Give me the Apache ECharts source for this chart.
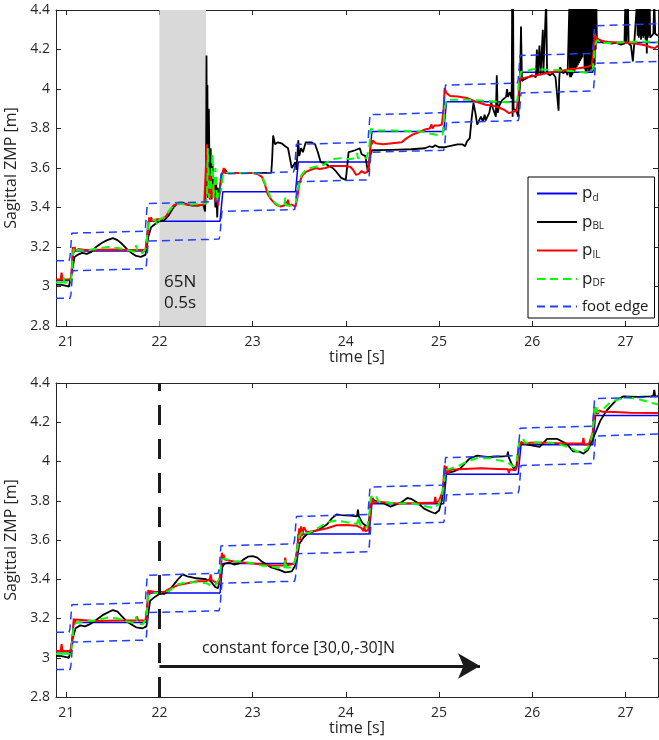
<!DOCTYPE html>
<html><head><meta charset="utf-8">
<script src="https://cdn.jsdelivr.net/npm/echarts@6/dist/echarts.min.js"></script>
<style>html,body{margin:0;padding:0;background:#fff}#c{width:659px;height:740px}</style>
</head><body><div id="c"></div><script>
// ---------- DATA ----------
const timeTicks = [21, 22, 23, 24, 25, 26, 27];
const zmpTicks = [2.8, 3, 3.2, 3.4, 3.6, 3.8, 4, 4.2, 4.4];

// desired ZMP p_d (same in both experiments)
const pD = [[20.89,3.03],[21.05,3.03],[21.08,3.18],[21.85,3.18],[21.88,3.33],[22.65,3.33],[22.68,3.48],[23.46,3.48],[23.49,3.63],[24.25,3.63],[24.28,3.785],[25.05,3.785],[25.08,3.935],[25.85,3.935],[25.88,4.085],[26.65,4.085],[26.68,4.235],[27.35,4.235]];
// foot edges
const footUpper = [[20.89,3.13],[21.03,3.13],[21.04,3.15],[21.06,3.27],[21.08,3.28],[21.84,3.28],[21.85,3.30],[21.87,3.42],[21.89,3.43],[22.63,3.43],[22.64,3.45],[22.66,3.57],[22.68,3.58],[23.44,3.58],[23.45,3.60],[23.47,3.72],[23.49,3.73],[24.23,3.73],[24.24,3.75],[24.26,3.87],[24.28,3.88],[25.04,3.88],[25.05,3.90],[25.07,4.02],[25.09,4.03],[25.84,4.03],[25.85,4.05],[25.87,4.17],[25.89,4.18],[26.64,4.18],[26.65,4.20],[26.67,4.32],[26.69,4.33],[27.35,4.33]];
const footLower = [[20.89,2.94],[21.04,2.94],[21.05,2.96],[21.07,3.08],[21.09,3.09],[21.85,3.09],[21.86,3.11],[21.88,3.23],[21.9,3.24],[22.64,3.24],[22.65,3.26],[22.67,3.38],[22.69,3.39],[23.45,3.39],[23.46,3.41],[23.48,3.53],[23.5,3.54],[24.24,3.54],[24.25,3.56],[24.27,3.68],[24.29,3.69],[25.05,3.69],[25.06,3.71],[25.08,3.83],[25.1,3.84],[25.85,3.84],[25.86,3.86],[25.88,3.98],[25.9,3.99],[26.65,3.99],[26.66,4.01],[26.68,4.13],[26.7,4.14],[27.35,4.14]];

// top panel (65N push, 0.5 s)
const topBL = [[20.89,3.01],[20.95,3.008],[21.0,3.003],[21.03,3.0],[21.05,3.01],[21.07,3.1],[21.09,3.15],[21.12,3.16],[21.17,3.17],[21.22,3.165],[21.27,3.175],[21.32,3.2],[21.38,3.22],[21.44,3.235],[21.5,3.245],[21.55,3.235],[21.6,3.215],[21.65,3.19],[21.7,3.17],[21.75,3.155],[21.8,3.15],[21.85,3.16],[21.88,3.25],[21.91,3.3],[21.95,3.315],[22.0,3.33],[22.05,3.335],[22.1,3.36],[22.15,3.4],[22.2,3.425],[22.25,3.425],[22.3,3.415],[22.35,3.41],[22.42,3.41],[22.47,3.415],[22.49,3.38],[22.5,3.55],[22.505,4.17],[22.51,3.6],[22.515,4.02],[22.52,3.45],[22.53,3.9],[22.54,3.48],[22.55,3.7],[22.56,3.44],[22.57,3.62],[22.58,3.5],[22.59,3.55],[22.6,3.4],[22.61,3.52],[22.62,3.35],[22.63,3.5],[22.64,3.45],[22.66,3.55],[22.68,3.58],[22.7,3.595],[22.73,3.575],[23.0,3.575],[23.2,3.575],[23.21,3.65],[23.22,3.765],[23.24,3.72],[23.27,3.73],[23.31,3.725],[23.35,3.71],[23.38,3.70],[23.4,3.65],[23.42,3.6],[23.44,3.6],[23.46,3.63],[23.47,3.59],[23.48,3.58],[23.49,3.74],[23.5,3.66],[23.52,3.7],[23.54,3.68],[23.57,3.73],[23.63,3.73],[23.67,3.72],[23.7,3.68],[23.73,3.63],[23.77,3.625],[23.82,3.61],[23.86,3.6],[23.9,3.58],[23.95,3.55],[24.0,3.54],[24.02,3.54],[24.03,3.68],[24.07,3.685],[24.1,3.69],[24.12,3.7],[24.15,3.7],[24.17,3.67],[24.19,3.66],[24.21,3.66],[24.23,3.6],[24.24,3.58],[24.26,3.66],[24.28,3.69],[24.35,3.69],[24.5,3.692],[24.7,3.695],[24.85,3.7],[24.9,3.71],[24.93,3.705],[24.96,3.715],[25.0,3.705],[25.05,3.705],[25.1,3.71],[25.15,3.715],[25.2,3.72],[25.25,3.72],[25.28,3.71],[25.3,3.735],[25.33,3.75],[25.35,3.85],[25.37,3.93],[25.39,3.88],[25.41,3.82],[25.43,3.84],[25.45,3.86],[25.47,3.835],[25.49,3.87],[25.5,3.84],[25.52,3.83],[25.54,3.88],[25.56,3.93],[25.58,3.9],[25.6,3.91],[25.61,3.86],[25.62,4.07],[25.63,3.88],[25.65,3.92],[25.68,3.945],[25.72,3.96],[25.73,4.0],[25.74,3.96],[25.76,3.985],[25.78,3.95],[25.785,4.45],[25.79,3.86],[25.795,4.45],[25.8,3.9],[25.83,3.89],[25.85,3.86],[25.86,3.95],[25.87,4.05],[25.88,4.316],[25.89,4.04],[25.92,4.05],[25.96,4.06],[26.0,4.07],[26.04,4.06],[26.05,4.2],[26.06,4.07],[26.078,4.22],[26.09,4.07],[26.11,4.08],[26.114,4.3],[26.12,4.08],[26.14,4.07],[26.15,4.45],[26.16,4.08],[26.19,4.07],[26.22,4.08],[26.25,4.06],[26.27,4.05],[26.283,3.89],[26.29,4.05],[26.3,4.11],[26.33,4.08],[26.36,4.09],[26.38,4.07],
[26.400,4.45],[26.406,4.06],[26.412,4.45],[26.418,4.06],[26.424,4.45],[26.430,4.07],[26.436,4.45],[26.442,4.08],[26.448,4.45],[26.454,4.09],[26.460,4.45],[26.466,4.10],[26.472,4.45],[26.478,4.11],[26.484,4.45],[26.490,4.12],[26.496,4.45],[26.502,4.13],[26.508,4.45],[26.514,4.14],[26.520,4.45],[26.526,4.15],[26.532,4.45],[26.538,4.16],[26.544,4.45],[26.550,4.18],[26.556,4.45],[26.562,4.10],[26.568,4.45],[26.574,4.09],[26.580,4.45],[26.586,4.09],[26.592,4.45],[26.598,4.10],[26.604,4.45],[26.610,4.09],[26.616,4.45],[26.622,4.10],[26.628,4.45],[26.634,4.09],[26.640,4.45],[26.646,4.10],[26.652,4.45],[26.658,4.09],[26.664,4.45],[26.670,4.12],[26.676,4.45],[26.682,4.20],[26.688,4.45],[26.694,4.24],
[26.72,4.25],[26.76,4.235],[26.8,4.24],[26.85,4.23],[26.9,4.235],[26.95,4.225],[26.99,4.23],[27.0,4.45],[27.01,4.23],[27.027,4.45],[27.035,4.23],[27.06,4.22],[27.08,4.14],[27.095,4.23],[27.11,4.24],
[27.126,4.45],[27.132,4.27],[27.138,4.45],[27.144,4.26],[27.150,4.45],[27.156,4.27],[27.162,4.45],[27.168,4.25],[27.174,4.45],[27.180,4.27],[27.186,4.45],[27.192,4.26],[27.198,4.45],[27.204,4.27],[27.210,4.45],[27.216,4.25],[27.222,4.45],[27.230,4.18],[27.236,4.45],[27.242,4.26],[27.248,4.45],[27.254,4.27],[27.260,4.45],[27.266,4.26],
[27.28,4.27],[27.3,4.28],[27.31,4.45],[27.32,4.28],[27.35,4.27]];
const topIL = [[20.89,3.035],[20.94,3.035],[20.95,3.07],[20.96,3.035],[21.05,3.035],[21.06,3.1],[21.07,3.2],[21.08,3.17],[21.09,3.2],[21.1,3.18],[21.13,3.19],[21.2,3.185],[21.5,3.187],[21.7,3.185],[21.85,3.185],[21.87,3.25],[21.89,3.35],[21.9,3.33],[21.91,3.35],[21.93,3.33],[21.97,3.34],[22.02,3.34],[22.07,3.355],[22.11,3.385],[22.15,3.41],[22.2,3.42],[22.3,3.415],[22.4,3.41],[22.48,3.415],[22.5,3.42],[22.51,3.72],[22.52,3.46],[22.53,3.6],[22.54,3.44],[22.55,3.56],[22.56,3.45],[22.58,3.52],[22.6,3.43],[22.62,3.47],[22.63,3.41],[22.65,3.5],[22.67,3.56],[22.69,3.6],[22.7,3.575],[22.75,3.575],[23.0,3.575],[23.05,3.57],[23.1,3.555],[23.13,3.52],[23.16,3.47],[23.2,3.44],[23.25,3.415],[23.3,3.405],[23.34,3.41],[23.36,3.43],[23.37,3.41],[23.38,3.44],[23.39,3.41],[23.42,3.415],[23.46,3.405],[23.48,3.45],[23.5,3.52],[23.53,3.56],[23.57,3.58],[23.62,3.59],[23.68,3.6],[23.72,3.595],[23.78,3.6],[23.84,3.61],[23.9,3.61],[24.0,3.61],[24.05,3.605],[24.08,3.59],[24.11,3.565],[24.14,3.57],[24.17,3.585],[24.2,3.575],[24.23,3.58],[24.25,3.62],[24.27,3.745],[24.28,3.72],[24.29,3.74],[24.32,3.725],[24.4,3.72],[24.5,3.725],[24.6,3.73],[24.65,3.75],[24.72,3.77],[24.78,3.78],[24.85,3.795],[24.9,3.8],[24.92,3.82],[24.93,3.8],[24.95,3.815],[25.0,3.815],[25.03,3.82],[25.05,3.9],[25.06,4.005],[25.08,3.98],[25.12,3.965],[25.2,3.962],[25.3,3.955],[25.4,3.935],[25.5,3.92],[25.6,3.914],[25.7,3.895],[25.75,3.878],[25.8,3.885],[25.83,3.89],[25.85,3.95],[25.87,4.06],[25.9,4.055],[26.0,4.065],[26.1,4.075],[26.2,4.085],[26.3,4.09],[26.4,4.1],[26.5,4.105],[26.6,4.113],[26.64,4.12],[26.66,4.2],[26.67,4.282],[26.69,4.26],[26.72,4.248],[26.8,4.238],[26.9,4.235],[27.0,4.235],[27.1,4.23],[27.2,4.223],[27.28,4.21],[27.32,4.207],[27.35,4.22]];
const topDF = [[20.89,3.02],[20.96,3.02],[20.97,3.05],[20.98,3.02],[21.05,3.02],[21.07,3.15],[21.08,3.19],[21.1,3.17],[21.12,3.185],[21.2,3.18],[21.3,3.19],[21.45,3.2],[21.55,3.195],[21.65,3.185],[21.74,3.175],[21.75,3.21],[21.76,3.175],[21.82,3.17],[21.86,3.2],[21.88,3.33],[21.9,3.34],[21.95,3.34],[21.98,3.31],[22.0,3.34],[22.05,3.35],[22.1,3.38],[22.15,3.41],[22.2,3.42],[22.3,3.415],[22.45,3.42],[22.5,3.42],[22.51,3.45],[22.52,3.7],[22.53,3.45],[22.55,3.5],[22.57,3.67],[22.58,3.45],[22.6,3.6],[22.62,3.43],[22.64,3.5],[22.66,3.48],[22.68,3.56],[22.7,3.58],[22.75,3.575],[23.05,3.575],[23.1,3.56],[23.15,3.5],[23.2,3.44],[23.25,3.42],[23.3,3.405],[23.34,3.41],[23.35,3.45],[23.36,3.41],[23.42,3.41],[23.46,3.42],[23.49,3.5],[23.52,3.56],[23.56,3.585],[23.62,3.6],[23.7,3.61],[23.76,3.615],[23.82,3.635],[23.86,3.645],[23.95,3.65],[24.05,3.645],[24.1,3.65],[24.12,3.675],[24.13,3.65],[24.22,3.65],[24.25,3.7],[24.27,3.8],[24.3,3.79],[24.5,3.79],[24.8,3.785],[24.9,3.775],[25.0,3.765],[25.04,3.77],[25.06,3.9],[25.08,3.945],[25.3,3.945],[25.5,3.94],[25.65,3.935],[25.8,3.932],[25.84,3.94],[25.86,4.05],[25.88,4.088],[25.95,4.092],[26.0,4.1],[26.3,4.095],[26.5,4.088],[26.6,4.08],[26.65,4.1],[26.67,4.2],[26.69,4.248],[26.75,4.235],[26.85,4.232],[27.0,4.238],[27.2,4.24],[27.35,4.237]];

// bottom panel (constant force)
const botBL = [[20.89,3.01],[20.95,3.008],[21.0,3.003],[21.03,3.0],[21.05,3.01],[21.07,3.1],[21.1,3.15],[21.15,3.165],[21.2,3.16],[21.25,3.17],[21.3,3.185],[21.4,3.22],[21.5,3.243],[21.55,3.235],[21.6,3.21],[21.65,3.185],[21.7,3.17],[21.75,3.155],[21.82,3.15],[21.86,3.16],[21.9,3.29],[21.95,3.31],[22.0,3.325],[22.05,3.325],[22.1,3.34],[22.15,3.37],[22.2,3.4],[22.25,3.425],[22.3,3.415],[22.35,3.41],[22.4,3.405],[22.5,3.4],[22.55,3.39],[22.6,3.36],[22.63,3.355],[22.67,3.46],[22.7,3.48],[22.75,3.485],[22.8,3.475],[22.85,3.48],[22.9,3.5],[22.95,3.515],[23.0,3.518],[23.05,3.51],[23.1,3.49],[23.2,3.46],[23.3,3.445],[23.35,3.435],[23.42,3.44],[23.47,3.48],[23.5,3.58],[23.55,3.615],[23.6,3.635],[23.7,3.65],[23.8,3.68],[23.85,3.71],[23.9,3.73],[23.95,3.727],[24.05,3.724],[24.12,3.72],[24.13,3.755],[24.14,3.72],[24.18,3.685],[24.23,3.668],[24.25,3.7],[24.27,3.81],[24.34,3.795],[24.41,3.786],[24.48,3.77],[24.59,3.79],[24.66,3.814],[24.7,3.81],[24.77,3.79],[24.84,3.76],[24.91,3.744],[24.96,3.735],[25.0,3.75],[25.03,3.8],[25.07,3.94],[25.16,3.95],[25.23,3.965],[25.33,4.016],[25.41,4.03],[25.52,4.022],[25.64,4.025],[25.73,4.027],[25.74,4.05],[25.75,4.02],[25.8,3.965],[25.83,3.975],[25.86,4.09],[25.91,4.09],[26.02,4.08],[26.08,4.075],[26.16,4.115],[26.27,4.115],[26.37,4.09],[26.44,4.052],[26.51,4.05],[26.55,4.04],[26.6,4.06],[26.66,4.125],[26.73,4.207],[26.8,4.261],[26.9,4.312],[26.98,4.332],[27.13,4.329],[27.27,4.332],[27.3,4.335],[27.31,4.365],[27.32,4.33],[27.35,4.335]];
const botIL = [[20.89,3.035],[20.94,3.035],[20.95,3.07],[20.96,3.035],[21.05,3.035],[21.07,3.12],[21.08,3.2],[21.09,3.17],[21.1,3.195],[21.12,3.185],[21.3,3.187],[21.6,3.19],[21.75,3.19],[21.76,3.21],[21.77,3.19],[21.85,3.19],[21.87,3.26],[21.88,3.345],[21.89,3.32],[21.9,3.34],[21.95,3.335],[22.05,3.335],[22.1,3.35],[22.2,3.37],[22.3,3.38],[22.4,3.39],[22.5,3.39],[22.54,3.4],[22.55,3.425],[22.56,3.395],[22.6,3.385],[22.64,3.38],[22.66,3.45],[22.67,3.535],[22.68,3.5],[22.69,3.525],[22.7,3.5],[22.8,3.49],[22.9,3.485],[23.0,3.48],[23.1,3.475],[23.2,3.47],[23.3,3.47],[23.34,3.47],[23.35,3.51],[23.36,3.47],[23.45,3.48],[23.48,3.55],[23.5,3.66],[23.51,3.6],[23.52,3.67],[23.53,3.62],[23.55,3.665],[23.58,3.64],[23.7,3.65],[23.8,3.66],[23.9,3.675],[24.0,3.676],[24.12,3.672],[24.17,3.66],[24.19,3.645],[24.2,3.67],[24.21,3.645],[24.24,3.65],[24.26,3.72],[24.27,3.82],[24.28,3.78],[24.29,3.815],[24.3,3.79],[24.34,3.795],[24.55,3.786],[24.77,3.788],[24.91,3.79],[24.95,3.79],[24.96,3.82],[24.97,3.79],[25.0,3.8],[25.04,3.85],[25.06,3.98],[25.07,3.93],[25.08,3.975],[25.1,3.94],[25.12,3.958],[25.27,3.962],[25.45,3.965],[25.63,3.962],[25.74,3.96],[25.75,3.94],[25.76,3.96],[25.82,3.955],[25.84,3.98],[25.86,4.1],[25.87,4.08],[25.88,4.1],[25.92,4.09],[25.98,4.095],[26.16,4.095],[26.34,4.092],[26.54,4.092],[26.55,4.12],[26.56,4.085],[26.61,4.09],[26.65,4.15],[26.67,4.278],[26.68,4.24],[26.69,4.27],[26.7,4.24],[26.72,4.26],[26.75,4.253],[26.88,4.252],[27.05,4.249],[27.35,4.247]];
const botDF = [[20.89,3.02],[20.96,3.02],[20.97,3.04],[20.98,3.02],[21.05,3.02],[21.07,3.1],[21.08,3.17],[21.12,3.18],[21.2,3.185],[21.3,3.19],[21.45,3.205],[21.55,3.2],[21.65,3.185],[21.74,3.176],[21.75,3.21],[21.76,3.176],[21.82,3.17],[21.86,3.2],[21.88,3.32],[21.95,3.33],[22.0,3.33],[22.1,3.34],[22.2,3.375],[22.3,3.385],[22.4,3.385],[22.5,3.38],[22.55,3.37],[22.6,3.37],[22.64,3.4],[22.67,3.5],[22.7,3.505],[22.8,3.49],[22.9,3.49],[23.0,3.48],[23.1,3.47],[23.2,3.465],[23.3,3.455],[23.34,3.455],[23.35,3.5],[23.36,3.46],[23.42,3.46],[23.46,3.5],[23.5,3.62],[23.55,3.65],[23.57,3.635],[23.6,3.635],[23.7,3.66],[23.8,3.69],[23.9,3.7],[23.98,3.693],[24.12,3.681],[24.14,3.72],[24.15,3.68],[24.2,3.66],[24.23,3.668],[24.25,3.72],[24.27,3.82],[24.32,3.83],[24.35,3.795],[24.55,3.786],[24.73,3.786],[24.88,3.769],[24.95,3.762],[25.0,3.785],[25.04,3.85],[25.07,3.956],[25.2,3.975],[25.3,3.999],[25.4,4.016],[25.56,4.016],[25.63,4.007],[25.73,3.998],[25.8,3.973],[25.83,3.99],[25.86,4.1],[25.9,4.12],[25.92,4.095],[26.02,4.098],[26.2,4.095],[26.31,4.085],[26.41,4.07],[26.48,4.05],[26.55,4.055],[26.59,4.065],[26.63,4.1],[26.67,4.24],[26.68,4.29],[26.7,4.25],[26.75,4.261],[26.84,4.303],[26.95,4.32],[27.0,4.328],[27.13,4.32],[27.27,4.3],[27.35,4.29]];

// annotations
const pushWindow = [22, 22.5];
const pushText = '65N\n0.5s';
const pushTextAt = [22.05, 2.969];
const forceStart = 22;
const arrowFrom = [22, 2.958];
const arrowTo = [25.44, 2.958];
const forceText = 'constant force [30,0,-30]N';
const forceTextAt = [22.456, 3.034];

// ---------- CHART ----------
const X_MIN = 20.89, X_MAX = 27.35, Y_MIN = 2.8, Y_MAX = 4.4;
const AX = '#262626';
const FONT = 'Open Sans';
const chart = echarts.init(document.getElementById('c'), null, {renderer: 'canvas'});

function xAxis(grid, pos, main) {
  return {
    type: 'value', gridIndex: grid, position: pos, min: X_MIN, max: X_MAX,
    axisLine: {onZero: false, lineStyle: {color: AX, width: 1}},
    axisTick: {show: true, inside: true, length: 5, customValues: timeTicks, lineStyle: {color: AX}},
    axisLabel: {show: main, customValues: timeTicks, margin: 9, color: AX, fontSize: 14, fontFamily: FONT},
    splitLine: {show: false},
    name: main ? 'time [s]' : '', nameLocation: 'middle', nameGap: 20,
    nameTextStyle: {color: AX, fontSize: 16, fontFamily: FONT}
  };
}
function yAxis(grid, pos, main) {
  return {
    type: 'value', gridIndex: grid, position: pos, min: Y_MIN, max: Y_MAX,
    axisLine: {onZero: false, lineStyle: {color: AX, width: 1}},
    axisTick: {show: true, inside: true, length: 5, customValues: zmpTicks, lineStyle: {color: AX}},
    axisLabel: {show: main, customValues: zmpTicks, margin: 6, color: AX, fontSize: 14, fontFamily: FONT},
    splitLine: {show: false},
    name: main ? 'Sagittal ZMP [m]' : '', nameLocation: 'middle', nameGap: 31, nameRotate: 90,
    nameTextStyle: {color: AX, fontSize: 16, fontFamily: FONT}
  };
}
function line(name, data, axIdx, color, width, dashed, extra) {
  return Object.assign({
    name, type: 'line', data, xAxisIndex: axIdx, yAxisIndex: axIdx,
    symbol: 'none', showSymbol: false, clip: true, animation: false,
    lineStyle: {color, width, type: dashed ? [8, 5] : 'solid'},
    itemStyle: {color}, emphasis: {disabled: true}
  }, extra || {});
}
const BLUE = '#0000ff', BLACK = '#000000', RED = '#ff0000', GREEN = '#00ff00', EDGE = '#1f3fff';

const series = [];
[[topBL, topIL, topDF, 0], [botBL, botIL, botDF, 2]].forEach(([bl, il, df, a], k) => {
  const extraPd = {};
  if (k === 0) {
    extraPd.markArea = {silent: true, itemStyle: {color: '#d9d9d9'}, data: [[{xAxis: pushWindow[0]}, {xAxis: pushWindow[1]}]]};
  } else {
    extraPd.markLine = {
      silent: true, symbol: 'none', animation: false, label: {show: false},
      lineStyle: {color: '#1a1a1a', width: 3, type: [20, 14]},
      data: [{xAxis: forceStart}]
    };
  }
  series.push(line('pd', pD, a, BLUE, 1.5, false, extraPd));
  series.push(line('pBL', bl, a, BLACK, 1.8, false));
  series.push(line('pIL', il, a, RED, 2, false));
  series.push(line('pDF', df, a, GREEN, 2, true));
  series.push(line('foot edge', footUpper, a, EDGE, 1.5, true));
  series.push(line('foot edge', footLower, a, EDGE, 1.5, true, k === 1 ? {
    markLine: {
      silent: true, animation: false, label: {show: false},
      symbol: ['none', 'arrow'], symbolSize: [19, 22],
      lineStyle: {color: '#1a1a1a', width: 3, type: 'solid'},
      itemStyle: {color: '#1a1a1a'},
      data: [[{coord: arrowFrom}, {coord: arrowTo}]]
    }
  } : {}));
});

const subFmt = name => name === 'foot edge' ? '{f|foot edge}' : '{n|p}{s|' + name.slice(1) + '}';

chart.setOption({
  animation: false,
  backgroundColor: '#fff',
  grid: [
    {left: 56, right: 1, top: 10, height: 316, containLabel: false, outerBoundsMode: 'none'},
    {left: 56, right: 1, top: 383, height: 314, containLabel: false, outerBoundsMode: 'none'}
  ],
  xAxis: [xAxis(0, 'bottom', true), xAxis(0, 'top', false), xAxis(1, 'bottom', true), xAxis(1, 'top', false)],
  yAxis: [yAxis(0, 'left', true), yAxis(0, 'right', false), yAxis(1, 'left', true), yAxis(1, 'right', false)],
  legend: {
    data: ['pd', 'pBL', 'pIL', 'pDF', 'foot edge'],
    orient: 'vertical', left: 528, top: 177,
    itemWidth: 40, itemHeight: 14, itemGap: 10.5,
    padding: [8, 6, 4, 8],
    borderColor: '#000', borderWidth: 1, backgroundColor: '#fff',
    selectedMode: false,
    itemStyle: {opacity: 0, borderWidth: 0},
    formatter: subFmt,
    textStyle: {
      color: '#1a1a1a', fontFamily: FONT,
      rich: {
        n: {fontSize: 17, fontFamily: FONT, color: '#1a1a1a'},
        f: {fontSize: 15, fontFamily: FONT, color: '#1a1a1a'},
        s: {fontSize: 10, fontFamily: FONT, color: '#1a1a1a', padding: [9, 0, 0, 0]}
      }
    }
  },
  series
});

const p1 = chart.convertToPixel({gridIndex: 0}, pushTextAt);
const p2 = chart.convertToPixel({gridIndex: 1}, forceTextAt);
chart.setOption({
  graphic: [
    {type: 'text', left: p1[0], top: p1[1] - 21, z: 100,
     style: {text: pushText, font: '17px "Open Sans"', fill: '#1a1a1a', lineHeight: 21}},
    {type: 'text', left: p2[0], top: p2[1] - 11, z: 100,
     style: {text: forceText, font: '16px "Open Sans"', fill: '#1a1a1a'}}
  ]
});
</script></body></html>
